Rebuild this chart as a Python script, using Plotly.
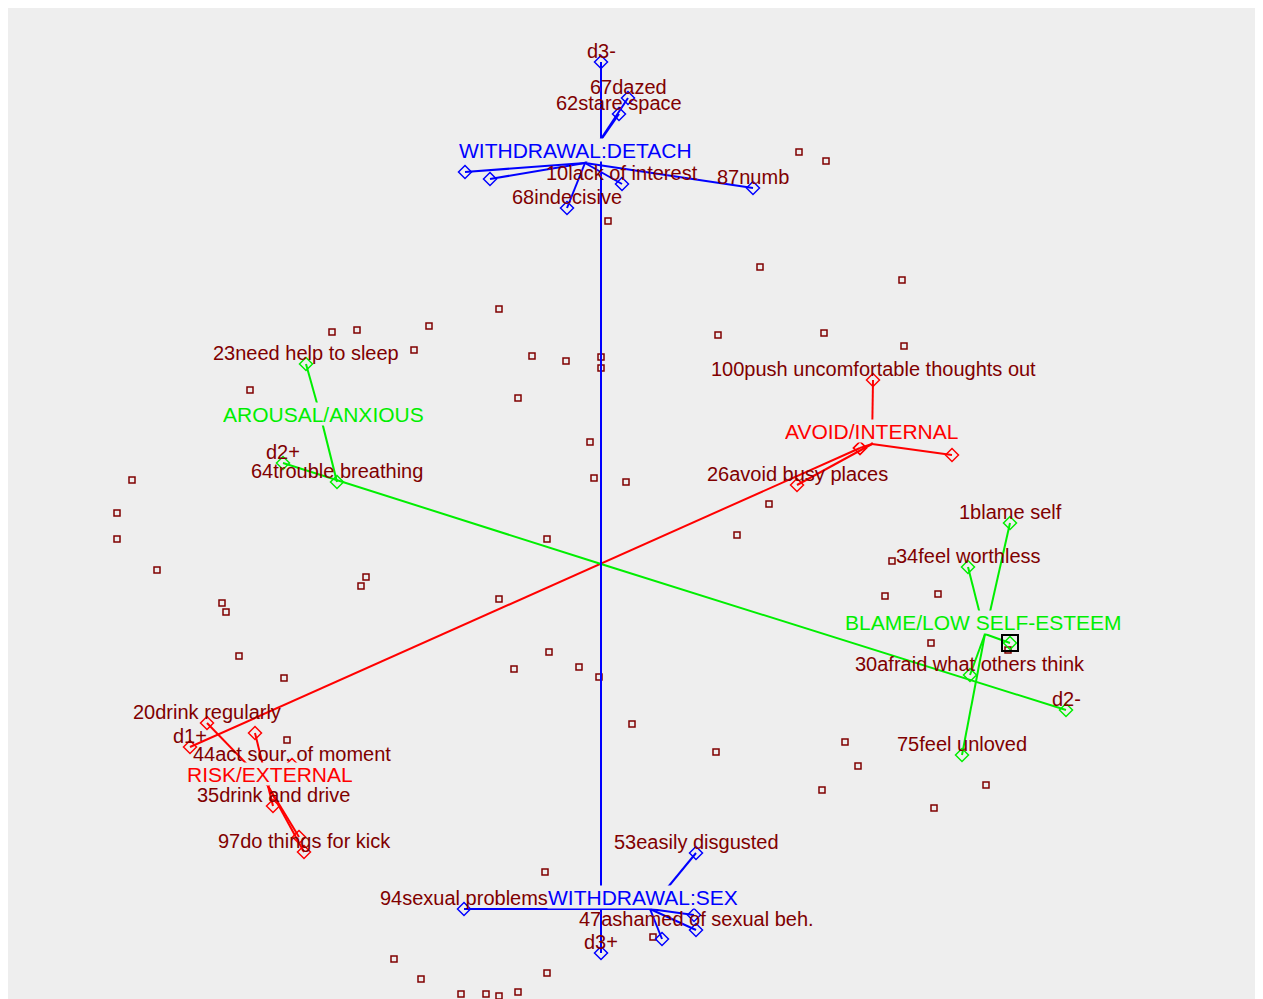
"""
Cluster projection plot: three rotated axes (d1..d3), item loadings
grouped into six symptom clusters, and the remaining items as dots.
"""
import plotly.graph_objects as go

# ── Data (projection coordinates, screen units, y grows downward) ──
axis_names = ["d1", "d2", "d3"]
axis_colors = ["#ff0000", "#00ee00", "#0000ff"]
axis_pos_x = [190, 283, 601]
axis_pos_y = [747, 463, 953]
axis_neg_x = [860, 1066, 601]
axis_neg_y = [448, 710, 62]
axis_pos_labels = ["d1+", "d2+", "d3+"]
axis_neg_labels = ["", "d2-", "d3-"]
origin_x, origin_y = 601, 564

cluster_names = ["WITHDRAWAL:DETACH", "AROUSAL/ANXIOUS", "AVOID/INTERNAL",
                 "BLAME/LOW SELF-ESTEEM", "RISK/EXTERNAL", "WITHDRAWAL:SEX"]
cluster_colors = ["#0000ff", "#00ee00", "#ff0000", "#00ee00", "#ff0000", "#0000ff"]
cluster_hub_x = [585, 320, 872, 985, 268, 650]
cluster_hub_y = [163, 414, 444, 634, 786, 909]
cluster_label_x = [575, 323, 871, 983, 270, 643]
cluster_label_y = [150, 414, 431, 622, 774, 897]

item_labels = [
    "67dazed", "62stare space", "10lack of interest", "68indecisive", "87numb", "", "",
    "23need help to sleep", "64trouble breathing",
    "100push uncomfortable thoughts out", "26avoid busy places", "", "",
    "1blame self", "34feel worthless", "", "30afraid what others think", "75feel unloved",
    "20drink regularly", "", "44act sour. of moment", "35drink and drive", "", "97do things for kick",
    "53easily disgusted", "94sexual problems", "", "47ashamed of sexual beh.", "",
]
item_cluster = [0, 0, 0, 0, 0, 0, 0,
                1, 1,
                2, 2, 2, 2,
                3, 3, 3, 3, 3,
                4, 4, 4, 4, 4, 4,
                5, 5, 5, 5, 5]
item_x = [628, 619, 622, 567, 753, 465, 490,
          306, 337,
          873, 797, 952, 860,
          1010, 968, 1010, 970, 962,
          207, 255, 292, 273, 299, 304,
          696, 464, 694, 696, 662]
item_y = [98, 114, 184, 208, 188, 172, 179,
          364, 482,
          380, 485, 455, 448,
          523, 567, 643, 675, 755,
          723, 733, 765, 806, 837, 852,
          853, 909, 915, 930, 939]
selected_item = 15

other_x = [499, 332, 357, 429, 414, 532, 566, 601, 601, 250, 518, 590, 594, 132,
           117, 117, 157, 547, 366, 361, 222, 226, 499, 239, 284, 549, 514, 579,
           599, 799, 826, 608, 760, 902, 718, 824, 904, 626, 769, 737, 892, 885,
           938, 931, 632, 716, 845, 858, 822, 986, 934, 1008, 545, 394, 421, 547,
           461, 486, 499, 518, 653, 287]
other_y = [309, 332, 330, 326, 350, 356, 361, 357, 368, 390, 398, 442, 478, 480,
           513, 539, 570, 539, 577, 586, 603, 612, 599, 656, 678, 652, 669, 667,
           677, 152, 161, 221, 267, 280, 335, 333, 346, 482, 504, 535, 561, 596,
           594, 643, 724, 752, 742, 766, 790, 785, 808, 650, 872, 959, 979, 973,
           994, 994, 996, 992, 937, 740]

BG = "#eeeeee"
ITEM_COLOR = "#800000"
FONT = "Liberation Sans, Arial, sans-serif"

fig = go.Figure()

# background items
fig.add_trace(go.Scatter(
    x=other_x, y=other_y, mode="markers",
    marker=dict(symbol="square-open", size=6, color=ITEM_COLOR, line=dict(width=1.5)),
))

# projected axes
for i in range(len(axis_names)):
    fig.add_trace(go.Scatter(
        x=[axis_pos_x[i], origin_x, axis_neg_x[i]],
        y=[axis_pos_y[i], origin_y, axis_neg_y[i]],
        mode="lines", line=dict(color=axis_colors[i], width=2),
    ))
    fig.add_trace(go.Scatter(
        x=[axis_pos_x[i], axis_neg_x[i]], y=[axis_pos_y[i], axis_neg_y[i]],
        mode="markers",
        marker=dict(symbol="diamond-open", size=10, color=axis_colors[i],
                    line=dict(width=1.5)),
    ))

# cluster spokes and item markers
for c, name in enumerate(cluster_names):
    idx = [k for k, cl in enumerate(item_cluster) if cl == c]
    xs, ys = [], []
    for k in idx:
        xs += [cluster_hub_x[c], item_x[k], None]
        ys += [cluster_hub_y[c], item_y[k], None]
    fig.add_trace(go.Scatter(x=xs, y=ys, mode="lines",
                             line=dict(color=cluster_colors[c], width=2)))
    fig.add_trace(go.Scatter(
        x=[item_x[k] for k in idx], y=[item_y[k] for k in idx], mode="markers",
        marker=dict(symbol="diamond-open", size=10, color=cluster_colors[c],
                    line=dict(width=1.5)),
    ))

# selection box
fig.add_trace(go.Scatter(
    x=[item_x[selected_item]], y=[item_y[selected_item]], mode="markers",
    marker=dict(symbol="square-open", size=16, color="#000000", line=dict(width=2)),
))

annotations = []
for c, name in enumerate(cluster_names):
    annotations.append(dict(
        x=cluster_label_x[c], y=cluster_label_y[c], text=name, showarrow=False,
        font=dict(family=FONT, size=21, color=cluster_colors[c]),
        bgcolor=BG, borderpad=0, height=22,
    ))
for k, lab in enumerate(item_labels):
    if lab:
        annotations.append(dict(
            x=item_x[k], y=item_y[k], text=lab, showarrow=False, yshift=11,
            font=dict(family=FONT, size=20, color=ITEM_COLOR),
        ))
for i in range(len(axis_names)):
    for lab, ax_x, ax_y in ((axis_pos_labels[i], axis_pos_x[i], axis_pos_y[i]),
                            (axis_neg_labels[i], axis_neg_x[i], axis_neg_y[i])):
        if lab:
            annotations.append(dict(
                x=ax_x, y=ax_y, text=lab, showarrow=False, yshift=11,
                font=dict(family=FONT, size=20, color=ITEM_COLOR),
            ))

# the page adds an 8px body margin, so the plot area is the whole figure
fig.update_layout(
    width=1249, height=991,
    margin=dict(l=0, r=0, t=0, b=0),
    paper_bgcolor=BG, plot_bgcolor=BG,
    showlegend=False, hovermode=False,
    xaxis=dict(range=[8, 1257], visible=False),
    yaxis=dict(range=[999, 8], visible=False),
    annotations=annotations,
)

fig.write_html("out.html")
